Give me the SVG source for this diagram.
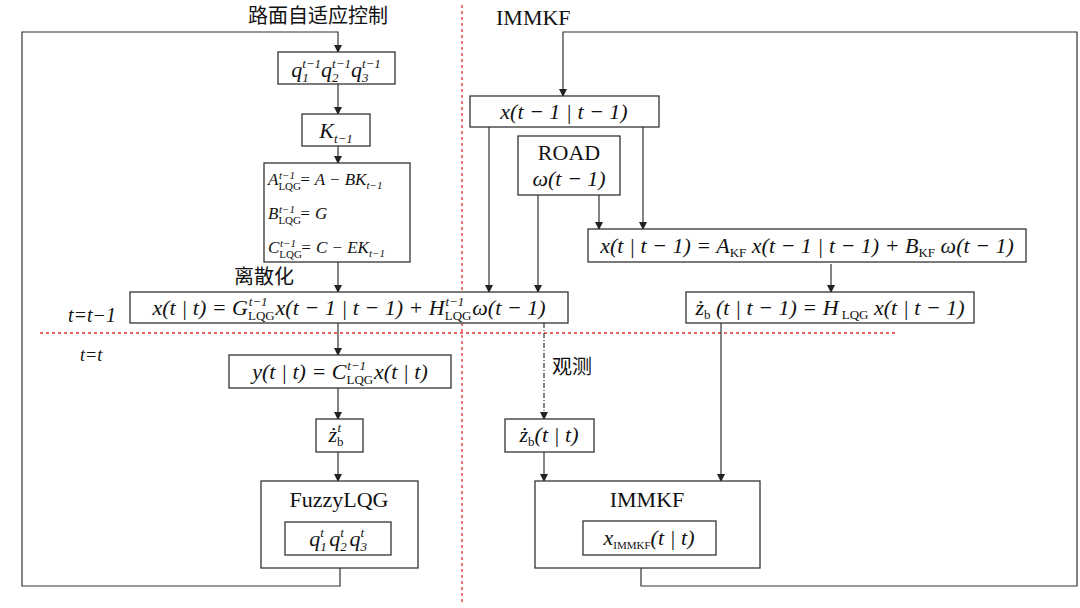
<svg xmlns="http://www.w3.org/2000/svg" width="1080" height="608" viewBox="0 0 1080 608">
<defs>
<marker id="ar" markerWidth="8" markerHeight="8" refX="7" refY="4" orient="auto" markerUnits="userSpaceOnUse"><path d="M0,0 L8,4 L0,8 z" fill="#222"/></marker>
<style>
.b{fill:#fff;stroke:#333;stroke-width:1.3}
.a{fill:none;stroke:#333;stroke-width:1.2;marker-end:url(#ar)}
.r{fill:none;stroke:#e03030;stroke-width:1.3;stroke-dasharray:3,3}
text{font-family:"Liberation Serif","DejaVu Serif",serif;fill:#111}
.cn{font-family:"Noto Sans CJK SC",sans-serif;font-size:20px}
.m{font-size:22px;text-anchor:middle}
.s{font-size:13px}
.i{font-style:italic}
</style>
</defs>
<line class="r" x1="462" y1="5" x2="462" y2="605"/>
<line class="r" x1="40" y1="333" x2="895" y2="333"/>
<g id="connectors">
<polyline class="a" points="340,568 340,586 22,586 22,32 338,32 338,52"/>
<polyline class="a" points="641,568 641,586 1077,586 1077,32 563,32 563,96"/>
<line class="a" x1="338" y1="84" x2="338" y2="114"/>
<line class="a" x1="338" y1="146" x2="338" y2="163"/>
<line class="a" x1="338" y1="262" x2="338" y2="292"/>
<line class="a" x1="338" y1="323" x2="338" y2="355"/>
<line class="a" x1="338" y1="388" x2="338" y2="419"/>
<line class="a" x1="338" y1="452" x2="338" y2="481"/>
<line class="a" x1="489" y1="127" x2="489" y2="292"/>
<line class="a" x1="643" y1="127" x2="643" y2="229"/>
<line class="a" x1="538" y1="195" x2="538" y2="292"/>
<line class="a" x1="599" y1="195" x2="599" y2="229"/>
<line class="a" x1="831" y1="264" x2="831" y2="292"/>
<line class="a" x1="721" y1="323" x2="721" y2="481"/>
<line class="a" x1="544" y1="323" x2="544" y2="419" stroke-dasharray="5,2,1,2"/>
<line class="a" x1="544" y1="452" x2="544" y2="481"/>
</g>
<text class="cn" x="248" y="23">路面自适应控制</text>
<text x="496" y="25" font-size="22">IMMKF</text>
<text class="cn" x="234" y="284">离散化</text>
<text class="cn" x="552" y="374" font-size="18">观测</text>
<text x="68" y="322" font-size="20" font-style="italic">t=t−1</text>
<text x="80" y="361" font-size="18" font-style="italic">t=t</text>
<g id="q1"><rect class="b" x="278" y="52" width="117" height="32"/>
<text class="m i" x="336" y="77">q<tspan class="s" dy="5">1</tspan><tspan class="s" dx="-6.5" dy="-14">t−1</tspan><tspan dy="9">q</tspan><tspan class="s" dy="5">2</tspan><tspan class="s" dx="-6.5" dy="-14">t−1</tspan><tspan dy="9">q</tspan><tspan class="s" dy="5">3</tspan><tspan class="s" dx="-6.5" dy="-14">t−1</tspan></text></g>
<g id="K"><rect class="b" x="302" y="114" width="68" height="32"/>
<text class="m i" x="336" y="138">K<tspan class="s" dy="5">t−1</tspan></text></g>
<g id="mat"><rect class="b" x="264" y="163" width="146" height="99"/>
<text font-size="17" font-style="italic" x="268" y="185">A<tspan font-size="11" font-style="normal" dy="5">LQG</tspan><tspan font-size="11" dx="-22" dy="-11">t−1</tspan><tspan dy="6"> = A − BK</tspan><tspan font-size="11" dy="4">t−1</tspan></text>
<text font-size="17" font-style="italic" x="268" y="219">B<tspan font-size="11" font-style="normal" dy="5">LQG</tspan><tspan font-size="11" dx="-22" dy="-11">t−1</tspan><tspan dy="6"> = G</tspan></text>
<text font-size="17" font-style="italic" x="268" y="253">C<tspan font-size="11" font-style="normal" dy="5">LQG</tspan><tspan font-size="11" dx="-22" dy="-11">t−1</tspan><tspan dy="6"> = C − EK</tspan><tspan font-size="11" dy="4">t−1</tspan></text></g>
<g id="main"><rect class="b" x="130" y="292" width="438" height="31"/>
<text class="m i" x="349" y="315">x(t | t) = G<tspan class="s" font-style="normal" dy="5">LQG</tspan><tspan class="s" dx="-26" dy="-14">t−1</tspan><tspan dx="8" dy="9">x(t − 1 | t − 1) + H</tspan><tspan class="s" font-style="normal" dy="5">LQG</tspan><tspan class="s" dx="-26" dy="-14">t−1</tspan><tspan dx="8" dy="9">ω(t − 1)</tspan></text></g>
<g id="xprev"><rect class="b" x="470" y="96" width="189" height="31"/>
<text class="m i" x="564" y="119">x(t − 1 | t − 1)</text></g>
<g id="road"><rect class="b" x="518" y="136" width="102" height="59"/>
<text class="m" x="569" y="160">ROAD</text><text class="m i" x="569" y="186">ω(t − 1)</text></g>
<g id="kf"><rect class="b" x="588" y="229" width="438" height="33"/>
<text class="m i" x="807" y="253">x(t | t − 1) = A<tspan class="s" font-style="normal" dy="4">KF</tspan><tspan dy="-4"> x(t − 1 | t − 1) + B</tspan><tspan class="s" font-style="normal" dy="4">KF</tspan><tspan dy="-4"> ω(t − 1)</tspan></text></g>
<g id="zbp"><rect class="b" x="686" y="292" width="288" height="31"/>
<text class="m i" x="830" y="315">ż<tspan class="s" font-style="normal" dy="4">b</tspan><tspan dy="-4"> (t | t − 1) = H</tspan><tspan class="s" font-style="normal" dy="4"> LQG</tspan><tspan dy="-4"> x(t | t − 1)</tspan></text></g>
<g id="y"><rect class="b" x="229" y="355" width="222" height="33"/>
<text class="m i" x="340" y="379">y(t | t) = C<tspan class="s" font-style="normal" dy="5">LQG</tspan><tspan class="s" dx="-26" dy="-14">t−1</tspan><tspan dx="8" dy="9">x(t | t)</tspan></text></g>
<g id="zbt"><rect class="b" x="316" y="419" width="47" height="33"/>
<text class="m i" x="336" y="442">ż<tspan class="s" font-style="normal" dy="4">b</tspan><tspan class="s" dx="-6" dy="-14">t</tspan></text></g>
<g id="fuzzy"><rect class="b" x="261" y="481" width="157" height="87"/>
<text class="m" x="339" y="507">FuzzyLQG</text>
<rect class="b" x="285" y="522" width="106" height="33"/>
<text class="m i" x="338" y="546">q<tspan class="s" dy="5">1</tspan><tspan class="s" dx="-6.5" dy="-14">t</tspan><tspan dy="9">  q</tspan><tspan class="s" dy="5">2</tspan><tspan class="s" dx="-6.5" dy="-14">t</tspan><tspan dy="9">  q</tspan><tspan class="s" dy="5">3</tspan><tspan class="s" dx="-6.5" dy="-14">t</tspan></text></g>
<g id="zbtt"><rect class="b" x="505" y="419" width="89" height="33"/>
<text class="m i" x="549" y="442">ż<tspan class="s" font-style="normal" dy="4">b</tspan><tspan dy="-4">(t | t)</tspan></text></g>
<g id="immkf"><rect class="b" x="535" y="481" width="225" height="87"/>
<text class="m" x="647" y="507">IMMKF</text>
<rect class="b" x="583" y="521" width="133" height="34"/>
<text class="m i" x="649" y="545">x<tspan font-size="11" font-style="normal" dy="4">IMMKF</tspan><tspan dy="-4">(t | t)</tspan></text></g>
</svg>
